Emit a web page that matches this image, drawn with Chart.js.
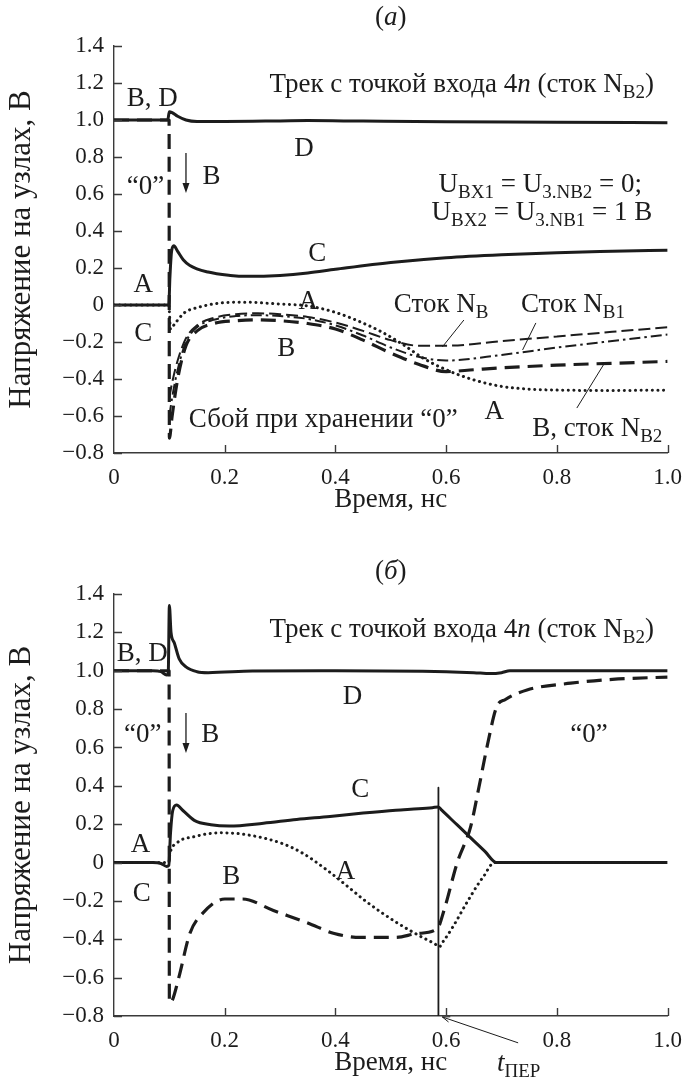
<!DOCTYPE html>
<html>
<head>
<meta charset="utf-8">
<script src="https://cdn.jsdelivr.net/npm/chart.js@4.4.1/dist/chart.umd.min.js"></script>
<style>
  html, body { margin: 0; padding: 0; background: #ffffff; }
  #wrap { position: relative; width: 693px; height: 1085px; }
  .box { position: absolute; left: 0; width: 693px; }
</style>
</head>
<body>
<div id="wrap">
  <div class="box" style="top:0;height:540px"><canvas id="chartA"></canvas></div>
  <div class="box" style="top:540px;height:545px"><canvas id="chartB"></canvas></div>
</div>
<script>
// ---- axes ----
const tickValuesX = [0, 0.2, 0.4, 0.6, 0.8, 1.0];
const tickLabelsX = ['0', '0.2', '0.4', '0.6', '0.8', '1.0'];
const tickValuesY = [-0.8, -0.6, -0.4, -0.2, 0, 0.2, 0.4, 0.6, 0.8, 1.0, 1.2, 1.4];
const tickLabelsY = ['\u22120.8', '\u22120.6', '\u22120.4', '\u22120.2', '0', '0.2', '0.4', '0.6', '0.8', '1.0', '1.2', '1.4'];

// ---- panel (а): node voltages, V, vs time, ns ----
const timeD_a = [0, 0.097, 0.1, 0.105, 0.115, 0.13, 0.15, 0.2, 0.3, 0.35, 0.45, 0.6, 0.8, 1.0];
const voltD_a = [1.0, 1.0, 1.045, 1.04, 1.02, 1.0, 0.992, 0.992, 0.995, 0.997, 0.994, 0.99, 0.988, 0.985];

const timeC_a = [0, 0.099, 0.101, 0.104, 0.108, 0.115, 0.125, 0.137, 0.17, 0.21, 0.24, 0.3, 0.35, 0.4, 0.5, 0.6, 0.7, 0.8, 0.9, 1.0];
const voltC_a = [0, 0, 0.15, 0.29, 0.32, 0.29, 0.245, 0.214, 0.178, 0.16, 0.155, 0.16, 0.173, 0.193, 0.23, 0.256, 0.272, 0.283, 0.29, 0.296];

const timeA_a = [0, 0.099, 0.102, 0.11, 0.128, 0.152, 0.19, 0.236, 0.3, 0.35, 0.4, 0.44, 0.48, 0.52, 0.56, 0.6, 0.65, 0.7, 0.75, 0.8, 0.9, 1.0];
const voltA_a = [0, 0, -0.13, -0.1, -0.04, -0.013, 0.01, 0.015, 0.005, -0.005, -0.04, -0.085, -0.14, -0.21, -0.29, -0.35, -0.405, -0.44, -0.455, -0.46, -0.462, -0.46];

const timeB_a = [0, 0.0995, 0.1, 0.105, 0.115, 0.13, 0.15, 0.18, 0.22, 0.26, 0.3, 0.35, 0.4, 0.45, 0.5, 0.55, 0.6, 0.65, 0.7, 0.8, 0.9, 1.0];
const voltB_a = [1.0, 1.0, -0.72, -0.6, -0.4, -0.22, -0.14, -0.1, -0.085, -0.08, -0.085, -0.1, -0.13, -0.19, -0.26, -0.32, -0.36, -0.35, -0.34, -0.325, -0.315, -0.305];

const timeNB_a = [0.1, 0.105, 0.115, 0.13, 0.15, 0.18, 0.22, 0.26, 0.3, 0.35, 0.4, 0.45, 0.5, 0.55, 0.6, 0.7, 0.8, 0.9, 1.0];
const voltNB_a = [-0.5, -0.42, -0.3, -0.18, -0.11, -0.07, -0.05, -0.045, -0.05, -0.065, -0.095, -0.14, -0.19, -0.22, -0.22, -0.195, -0.17, -0.145, -0.12];
const voltNB1_a = [-0.6, -0.5, -0.35, -0.2, -0.12, -0.08, -0.06, -0.055, -0.06, -0.075, -0.11, -0.165, -0.23, -0.28, -0.3, -0.27, -0.23, -0.195, -0.16];

// ---- panel (б) ----
const timeD_b = [0, 0.07, 0.085, 0.095, 0.098, 0.1, 0.103, 0.109, 0.118, 0.13, 0.15, 0.17, 0.25, 0.4, 0.6, 0.65, 0.68, 0.7, 0.715, 0.8, 1.0];
const voltD_b = [1.0, 1.0, 0.995, 0.978, 0.99, 1.34, 1.2, 1.145, 1.06, 1.02, 0.995, 0.99, 0.998, 1.0, 0.995, 0.99, 0.985, 0.99, 1.0, 1.0, 1.0];

const timeB_b = [0, 0.0995, 0.1, 0.105, 0.117, 0.137, 0.16, 0.2, 0.232, 0.288, 0.35, 0.398, 0.445, 0.509, 0.548, 0.584, 0.596, 0.62, 0.644, 0.659, 0.675, 0.691, 0.707, 0.746, 0.825, 0.9, 1.0];
const voltB_b = [1.0, 1.0, -0.73, -0.72, -0.6, -0.37, -0.265, -0.19, -0.19, -0.25, -0.315, -0.37, -0.39, -0.39, -0.37, -0.345, -0.25, 0.0, 0.185, 0.39, 0.62, 0.81, 0.85, 0.9, 0.935, 0.955, 0.967];

const timeC_b = [0, 0.07, 0.085, 0.095, 0.099, 0.102, 0.106, 0.113, 0.125, 0.145, 0.175, 0.208, 0.27, 0.33, 0.39, 0.45, 0.509, 0.55, 0.575, 0.586, 0.592, 0.62, 0.65, 0.67, 0.691, 0.8, 1.0];
const voltC_b = [0, 0, -0.005, -0.02, -0.015, 0.15, 0.27, 0.30, 0.27, 0.22, 0.197, 0.19, 0.205, 0.225, 0.24, 0.258, 0.273, 0.28, 0.286, 0.29, 0.273, 0.196, 0.113, 0.058, 0.0, 0.0, 0.0];

const timeA_b = [0, 0.099, 0.1, 0.113, 0.145, 0.193, 0.24, 0.303, 0.34, 0.385, 0.42, 0.454, 0.509, 0.557, 0.58, 0.587, 0.595, 0.612, 0.635, 0.659, 0.667, 0.687, 0.8, 1.0];
const voltA_b = [0, 0, 0.03, 0.10, 0.135, 0.155, 0.145, 0.1, 0.05, -0.04, -0.12, -0.2, -0.31, -0.39, -0.425, -0.44, -0.41, -0.336, -0.22, -0.107, -0.075, 0, 0, 0];

const switchTime_b = 0.586;   // t_ПЕР marker
const switchTop_b = 0.39;

// ---- styling ----
const SERIF = "'Liberation Serif', 'Times New Roman', serif";
const INK = '#1c1c1c';
const AXIS = '#3a3a3a';
const FS_TICK = 23;
const FS = 27;
const FS_YTITLE = 31;
const FS_SUB = 19;

function pts(t, v) { return t.map((x, i) => ({ x: x, y: v[i] })); }
function labelFor(value, values, labels) {
  let k = 0, best = Infinity;
  values.forEach((v, i) => { const d = Math.abs(v - value); if (d < best) { best = d; k = i; } });
  return labels[k];
}

function line(data, style) {
  return Object.assign({
    data: data, borderColor: INK, backgroundColor: INK, pointRadius: 0, fill: false,
    cubicInterpolationMode: 'monotone', borderWidth: 3, borderCapStyle: 'butt', borderJoinStyle: 'round'
  }, style);
}
const SOLID = { borderWidth: 3 };
const DOTTED = { borderWidth: 3, borderDash: [0.1, 5.5], borderCapStyle: 'round' };
const DASH_THICK = { borderWidth: 3.2, borderDash: [15, 8] };
const DASH_THIN = { borderWidth: 2, borderDash: [12, 5] };
const DASH_DOT = { borderWidth: 2, borderDash: [11, 4, 2.5, 4] };

// rich text: parts = [[text, kind]], kind '' normal, 'i' italic, 's' subscript
function rich(ctx, x, y, parts, align) {
  const fontOf = k => k === 's' ? `${FS_SUB}px ${SERIF}` : k === 'i' ? `italic ${FS}px ${SERIF}` : `${FS}px ${SERIF}`;
  let w = 0;
  parts.forEach(p => { ctx.font = fontOf(p[1]); w += ctx.measureText(p[0]).width; });
  let cx = align === 'center' ? x - w / 2 : (align === 'right' ? x - w : x);
  ctx.textAlign = 'left';
  ctx.textBaseline = 'alphabetic';
  ctx.fillStyle = INK;
  parts.forEach(p => {
    ctx.font = fontOf(p[1]);
    ctx.fillText(p[0], cx, y + 9 + (p[1] === 's' ? 6 : 0));
    cx += ctx.measureText(p[0]).width;
  });
}

function arrowDown(ctx, x, y1, y2) {
  ctx.save();
  ctx.strokeStyle = INK; ctx.fillStyle = INK; ctx.lineWidth = 1.3;
  ctx.beginPath(); ctx.moveTo(x, y1); ctx.lineTo(x, y2 - 8); ctx.stroke();
  ctx.beginPath(); ctx.moveTo(x - 3.5, y2 - 10); ctx.lineTo(x + 3.5, y2 - 10); ctx.lineTo(x, y2); ctx.closePath(); ctx.fill();
  ctx.restore();
}
function leader(ctx, x1, y1, x2, y2) {
  ctx.save(); ctx.strokeStyle = INK; ctx.lineWidth = 1;
  ctx.beginPath(); ctx.moveTo(x1, y1); ctx.lineTo(x2, y2); ctx.stroke(); ctx.restore();
}

// inward tick marks on the left and bottom axes
const inwardTicks = {
  id: 'inwardTicks',
  afterDatasetsDraw(chart) {
    const { ctx, chartArea: a, scales: { x, y } } = chart;
    ctx.save();
    ctx.strokeStyle = AXIS; ctx.lineWidth = 1.4;
    ctx.beginPath();
    tickValuesY.forEach(v => { const py = Math.round(y.getPixelForValue(v)) + 0.5; ctx.moveTo(a.left, py); ctx.lineTo(a.left + 8, py); });
    tickValuesX.forEach(v => { if (v === 0) return; const px = Math.round(x.getPixelForValue(v)) + 0.5; ctx.moveTo(px, a.bottom); ctx.lineTo(px, a.bottom - 8); });
    ctx.stroke();
    ctx.restore();
  }
};

function annotate(notes) {
  return {
    id: 'notes',
    afterDraw(chart) {
      const { ctx, scales: { x, y } } = chart;
      const X = t => x.getPixelForValue(t), Y = v => y.getPixelForValue(v);
      ctx.save();
      notes(ctx, X, Y, chart);
      ctx.restore();
    }
  };
}

function options(cfg) {
  const tickFont = { family: SERIF, size: FS_TICK };
  const titleFont = { family: SERIF, size: FS };
  const yTitleFont = { family: SERIF, size: FS_YTITLE };
  return {
    responsive: true, maintainAspectRatio: false, animation: false,
    layout: { padding: { left: 0, right: 17, top: cfg.top, bottom: 0 } },
    plugins: { legend: { display: false }, tooltip: { enabled: false }, title: { display: false } },
    scales: {
      x: {
        type: 'linear', min: 0, max: 1,
        afterBuildTicks: s => { s.ticks = tickValuesX.map(v => ({ value: v })); },
        afterFit: s => { s.height = cfg.xHeight; },
        grid: { display: false, drawTicks: false },
        border: { display: true, color: AXIS, width: 1.4 },
        ticks: { padding: 11, font: tickFont, color: INK, maxRotation: 0, autoSkip: false,
                 callback: v => labelFor(v, tickValuesX, tickLabelsX) },
        title: { display: true, text: 'Время, нс', font: titleFont, color: INK, padding: { top: 0, bottom: cfg.xTitlePad } }
      },
      y: {
        type: 'linear', min: -0.8, max: 1.4,
        afterBuildTicks: s => { s.ticks = tickValuesY.map(v => ({ value: v })); },
        afterFit: s => { s.width = 114; },
        grid: { display: false, drawTicks: false },
        border: { display: true, color: AXIS, width: 1.4 },
        ticks: { padding: 10, font: tickFont, color: INK, autoSkip: false,
                 callback: v => labelFor(v, tickValuesY, tickLabelsY) },
        title: { display: true, text: 'Напряжение на узлах, В', font: yTitleFont, color: INK, padding: { top: 3, bottom: 0 } }
      }
    }
  };
}

// ---- panel (а) ----
new Chart(document.getElementById('chartA'), {
  type: 'line',
  data: {
    datasets: [
      line(pts(timeNB_a, voltNB_a), DASH_THIN),
      line(pts(timeNB_a, voltNB1_a), DASH_DOT),
      line(pts(timeB_a, voltB_a), DASH_THICK),
      line(pts(timeA_a, voltA_a), DOTTED),
      line(pts(timeC_a, voltC_a), SOLID),
      line(pts(timeD_a, voltD_a), SOLID)
    ]
  },
  options: options({ top: 46, xHeight: 87, xTitlePad: 24 }),
  plugins: [inwardTicks, annotate((ctx, X, Y, chart) => {
    const mid = (chart.chartArea.left + chart.chartArea.right) / 2;
    rich(ctx, mid, 16, [['(', ''], ['а', 'i'], [')', '']], 'center');
    rich(ctx, X(0.628), Y(1.2), [['Трек с точкой входа 4', ''], ['n', 'i'], [' (сток N', ''], ['B2', 's'], [')', '']], 'center');
    rich(ctx, X(0.069), Y(1.124), [['B, D', '']], 'center');
    rich(ctx, X(0.343), Y(0.854), [['D', '']], 'center');
    rich(ctx, X(0.057), Y(0.649), [['\u201C0\u201D', '']], 'center');
    arrowDown(ctx, X(0.130), Y(0.822), Y(0.605));
    rich(ctx, X(0.176), Y(0.703), [['B', '']], 'center');
    rich(ctx, X(0.770), Y(0.659), [['U', ''], ['BX1', 's'], [' = U', ''], ['3.NB2', 's'], [' = 0;', '']], 'center');
    rich(ctx, X(0.773), Y(0.508), [['U', ''], ['BX2', 's'], [' = U', ''], ['3.NB1', 's'], [' = 1 В', '']], 'center');
    rich(ctx, X(0.367), Y(0.286), [['C', '']], 'center');
    rich(ctx, X(0.053), Y(0.119), [['A', '']], 'center');
    rich(ctx, X(0.351), Y(0.027), [['A', '']], 'center');
    rich(ctx, X(0.053), Y(-0.146), [['C', '']], 'center');
    rich(ctx, X(0.311), Y(-0.227), [['B', '']], 'center');
    rich(ctx, X(0.591), Y(0.011), [['Сток N', ''], ['B', 's']], 'center');
    leader(ctx, X(0.632), Y(-0.081), X(0.593), Y(-0.227));
    rich(ctx, X(0.829), Y(0.011), [['Сток N', ''], ['B1', 's']], 'center');
    leader(ctx, X(0.762), Y(-0.097), X(0.738), Y(-0.243));
    rich(ctx, X(0.378), Y(-0.611), [['Сбой при хранении \u201C0\u201D', '']], 'center');
    rich(ctx, X(0.687), Y(-0.568), [['A', '']], 'center');
    rich(ctx, X(0.873), Y(-0.659), [['B, сток N', ''], ['B2', 's']], 'center');
    leader(ctx, X(0.836), Y(-0.557), X(0.884), Y(-0.324));
  })]
});

// ---- panel (б) ----
new Chart(document.getElementById('chartB'), {
  type: 'line',
  data: {
    datasets: [
      line(pts(timeB_b, voltB_b), DASH_THICK),
      line(pts(timeA_b, voltA_b), DOTTED),
      line(pts(timeC_b, voltC_b), SOLID),
      line(pts(timeD_b, voltD_b), SOLID),
      line([{ x: switchTime_b, y: switchTop_b }, { x: switchTime_b, y: -0.8 }], { borderWidth: 1.8, cubicInterpolationMode: 'default', tension: 0 })
    ]
  },
  options: options({ top: 54, xHeight: 69, xTitlePad: 6 }),
  plugins: [inwardTicks, annotate((ctx, X, Y, chart) => {
    const mid = (chart.chartArea.left + chart.chartArea.right) / 2;
    rich(ctx, mid, 30, [['(', ''], ['б', 'i'], [')', '']], 'center');
    rich(ctx, X(0.628), Y(1.223), [['Трек с точкой входа 4', ''], ['n', 'i'], [' (сток N', ''], ['B2', 's'], [')', '']], 'center');
    rich(ctx, X(0.051), Y(1.098), [['B, D', '']], 'center');
    rich(ctx, X(0.431), Y(0.873), [['D', '']], 'center');
    rich(ctx, X(0.052), Y(0.675), [['\u201C0\u201D', '']], 'center');
    arrowDown(ctx, X(0.130), Y(0.78), Y(0.571));
    rich(ctx, X(0.174), Y(0.675), [['B', '']], 'center');
    rich(ctx, X(0.858), Y(0.675), [['\u201C0\u201D', '']], 'center');
    rich(ctx, X(0.445), Y(0.389), [['C', '']], 'center');
    rich(ctx, X(0.048), Y(0.102), [['A', '']], 'center');
    rich(ctx, X(0.212), Y(-0.065), [['B', '']], 'center');
    rich(ctx, X(0.418), Y(-0.039), [['A', '']], 'center');
    rich(ctx, X(0.050), Y(-0.154), [['C', '']], 'center');
    // leader to the switching moment
    const x1 = X(0.593), y1 = Y(-0.805), x2 = X(0.730), y2 = Y(-0.94);
    leader(ctx, x1, y1, x2, y2);
    const ang = Math.atan2(y2 - y1, x2 - x1);
    ctx.save(); ctx.strokeStyle = INK; ctx.lineWidth = 1;
    ctx.beginPath();
    ctx.moveTo(x1 + 8 * Math.cos(ang + 0.35), y1 + 8 * Math.sin(ang + 0.35));
    ctx.lineTo(x1, y1);
    ctx.lineTo(x1 + 8 * Math.cos(ang - 0.35), y1 + 8 * Math.sin(ang - 0.35));
    ctx.stroke(); ctx.restore();
    rich(ctx, X(0.731), Y(-1.04), [['t', 'i'], ['ПЕР', 's']], 'center');
  })]
});
</script>
</body>
</html>
